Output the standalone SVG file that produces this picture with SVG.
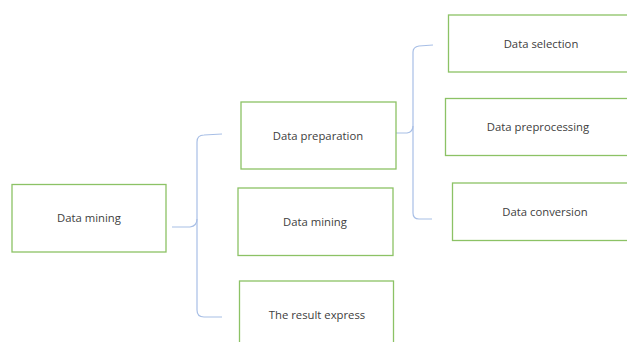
<svg xmlns="http://www.w3.org/2000/svg" width="627" height="342" viewBox="0 0 627 342">
<style>
.box{fill:#ffffff;stroke:#8cc265;stroke-width:1.3}
.lbl{font-family:"Open Sans","Noto Sans",sans-serif;font-size:11.3px;fill:#404040;text-anchor:middle;dominant-baseline:central}
.br{fill:none;stroke:#a8bfe6;stroke-width:1.2}
</style>
<rect width="627" height="342" fill="#ffffff"/>
<g id="connectors">
<path class="br" d="M172,227 L190,227 Q197,226 197,219 L197,142 Q197,135 204,135 L222,134"/>
<path class="br" d="M197,219 L197,310 Q197,317 204,317 L222,317"/>
<path class="br" d="M394,133 L407,133 Q413,132 413,126 L413,52 Q413,47 419,46 L433,45"/>
<path class="br" d="M413,126 L413,213 Q413,219 419,219 L432,219"/>
</g>
<g id="n1"><rect class="box" x="12" y="184.5" width="154" height="67.5"/><text class="lbl" x="89" y="217">Data mining</text></g>
<g id="n2"><rect class="box" x="241" y="102" width="155" height="67"/><text class="lbl" x="318" y="135">Data preparation</text></g>
<g id="n3"><rect class="box" x="238" y="188" width="155" height="67.5"/><text class="lbl" x="315" y="221">Data mining</text></g>
<g id="n4"><rect class="box" x="239.5" y="281" width="154" height="70"/><text class="lbl" x="317" y="314">The result express</text></g>
<g id="n5"><rect class="box" x="448.5" y="15" width="190" height="57"/><text class="lbl" x="541" y="43">Data selection</text></g>
<g id="n6"><rect class="box" x="445.5" y="98.5" width="190" height="57"/><text class="lbl" x="538" y="126">Data preprocessing</text></g>
<g id="n7"><rect class="box" x="452.5" y="183" width="190" height="57.5"/><text class="lbl" x="545" y="211">Data conversion</text></g>
</svg>
